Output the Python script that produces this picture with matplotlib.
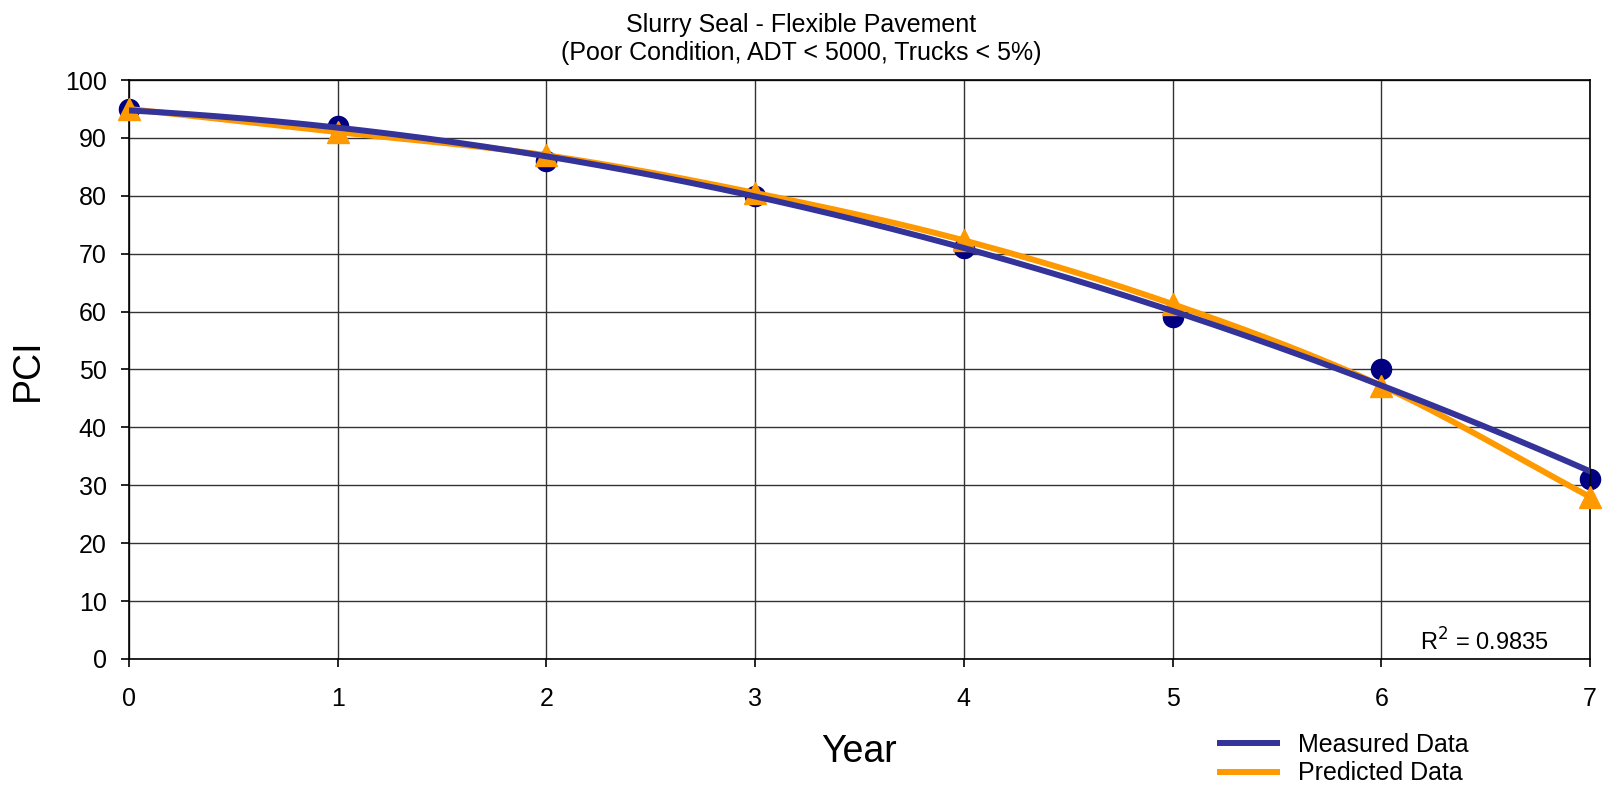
import numpy as np
import matplotlib
matplotlib.use("Agg")
from matplotlib import pyplot as plt

plt.rcParams['font.family'] = ['Liberation Sans', 'DejaVu Sans']

# data
years = [0, 1, 2, 3, 4, 5, 6, 7]
measured = [95, 92, 86, 80, 71, 59, 50, 31]
predicted = [95, 91, 87, 80.5, 72.3, 61.3, 47.2, 28]
title1 = 'Slurry Seal - Flexible Pavement'
title2 = '(Poor Condition, ADT < 5000, Trucks < 5%)'
r2_text = "R$^2$ = 0.9835"

NAVY = '#000080'
BLUE = '#333399'
ORANGE = '#FF9900'


def smooth(x, y, n=30):
    # catmull-rom style smoothing, like a spreadsheet "smoothed line"
    x = np.asarray(x, float)
    y = np.asarray(y, float)
    px = np.concatenate([[2 * x[0] - x[1]], x, [2 * x[-1] - x[-2]]])
    py = np.concatenate([[2 * y[0] - y[1]], y, [2 * y[-1] - y[-2]]])
    xs, ys = [], []
    t = np.linspace(0, 1, n)
    for i in range(1, len(px) - 2):
        for p, out in ((px, xs), (py, ys)):
            p0, p1, p2, p3 = p[i - 1], p[i], p[i + 1], p[i + 2]
            out.append(0.5 * ((2 * p1) + (-p0 + p2) * t +
                              (2 * p0 - 5 * p1 + 4 * p2 - p3) * t ** 2 +
                              (-p0 + 3 * p1 - 3 * p2 + p3) * t ** 3))
    return np.concatenate(xs), np.concatenate(ys)


fig = plt.figure(figsize=(16.02, 7.89), dpi=100)
ax = fig.add_axes([0.0805, 0.1648, 0.912, 0.7338])

# polynomial trend line of the measured data
coef = np.polyfit(years, measured, 2)
xt = np.linspace(0, 7, 200)
ax.plot(xt, np.polyval(coef, xt), color=BLUE, lw=4.3, zorder=4, label='Measured Data')

sx, sy = smooth(years, predicted)
ax.plot(sx, sy, color=ORANGE, lw=4.3, zorder=3, label='Predicted Data')

ax.plot(years, measured, 'o', color=NAVY, ms=14.5, zorder=2, clip_on=False)
ax.plot(years, predicted, '^', color=ORANGE, ms=15.5, zorder=3, clip_on=False)

ax.set_xlim(0, 7)
ax.set_ylim(0, 100)
ax.set_xticks(range(0, 8))
ax.set_yticks(range(0, 101, 10))
ax.grid(True, color='#333333', lw=1)
ax.set_axisbelow(True)
for s in ax.spines.values():
    s.set_color('black')
    s.set_linewidth(1.2)
ax.tick_params(axis='both', labelsize=18, length=6, width=1.2, direction='out')
ax.tick_params(axis='x', pad=14)
ax.tick_params(axis='y', pad=10)

fig.text(0.5, 1 - 32 / 789, title1, fontsize=18, ha='center', va='baseline')
fig.text(0.5, 1 - 60 / 789, title2, fontsize=18, ha='center', va='baseline')
fig.text(859 / 1602, 1 - 762 / 789, 'Year', fontsize=27, ha='center', va='baseline')
fig.text(28 / 1602, 1 - 370 / 789, 'PCI', fontsize=27, ha='center', va='center',
         rotation=90)

ax.text(6.8, 2.9, r2_text, fontsize=17, ha='right', va='center')

ax.legend(loc='center left', bbox_to_anchor=(1220 / 1602, 1 - 759 / 789),
          bbox_transform=fig.transFigure, frameon=False, borderpad=0,
          borderaxespad=0, fontsize=18, handlelength=2.28, labelspacing=0.2,
          handletextpad=0.84)

fig.savefig('out.png', dpi=100)
